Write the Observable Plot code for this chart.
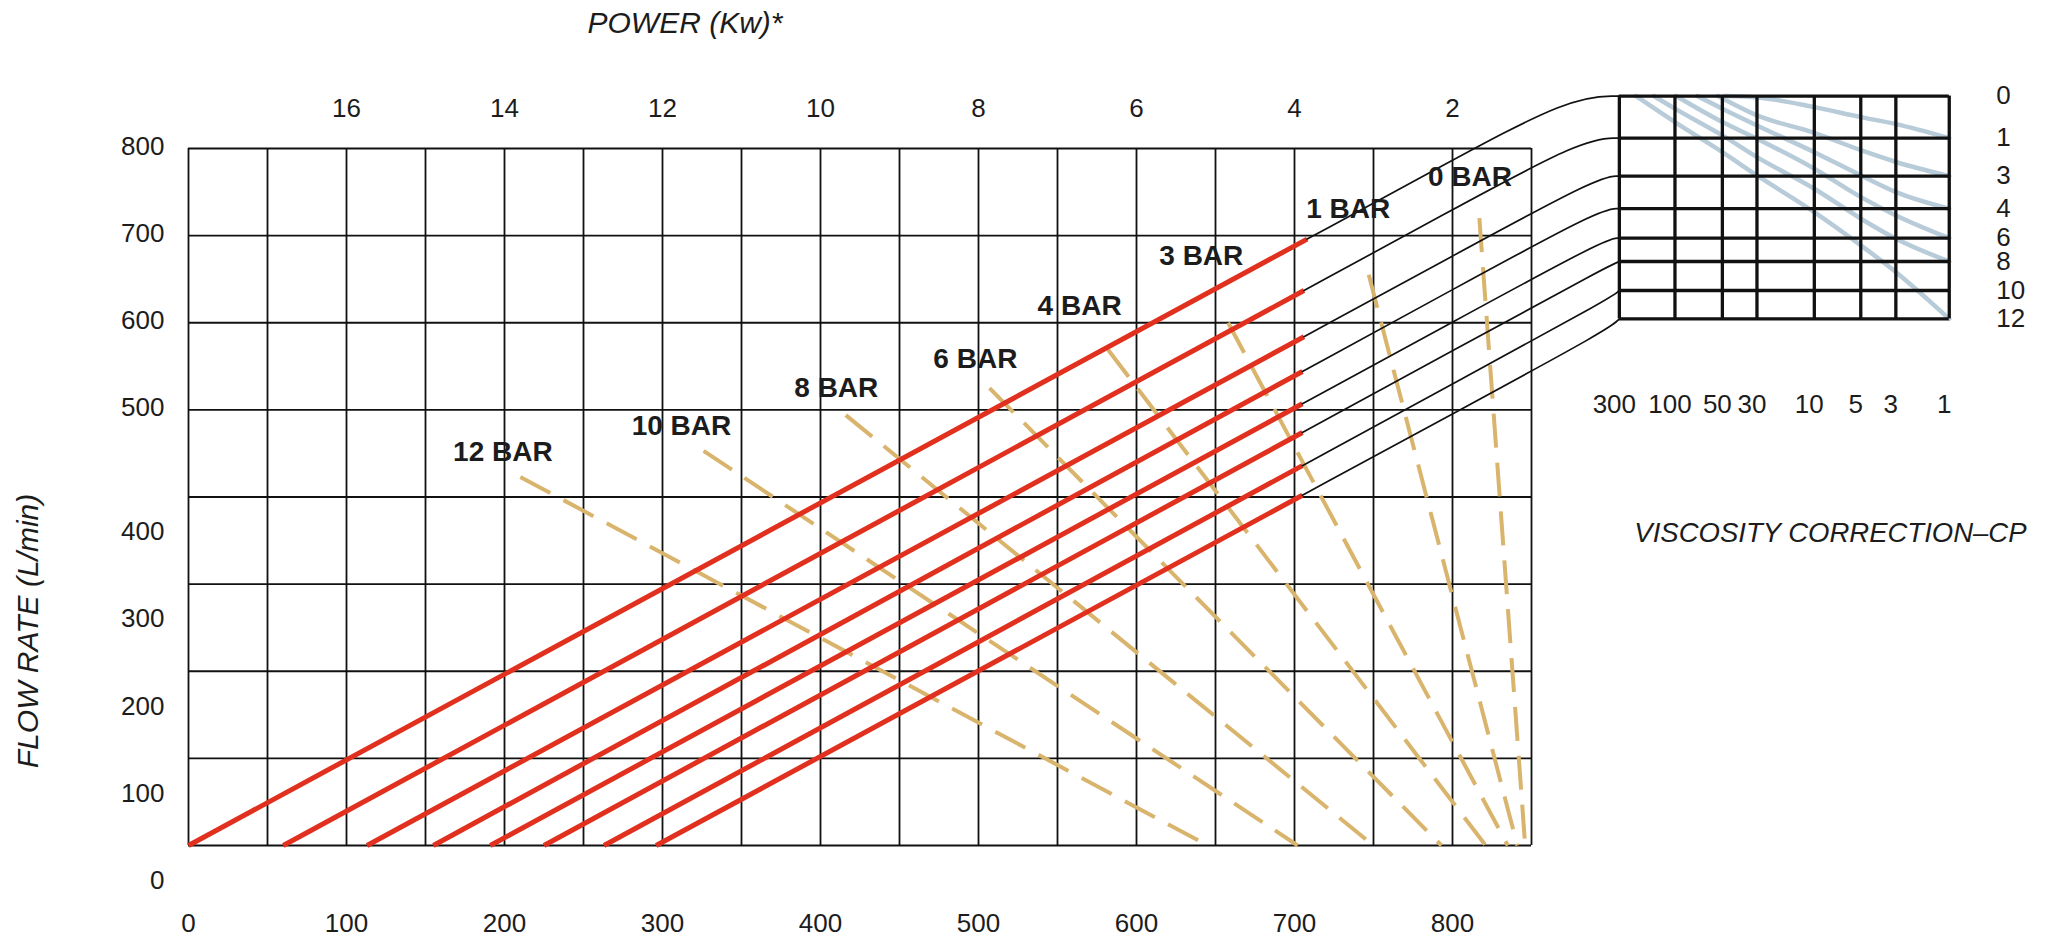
<!DOCTYPE html>
<html>
<head>
<meta charset="utf-8">
<script src="https://cdn.jsdelivr.net/npm/d3@7"></script>
<script src="https://cdn.jsdelivr.net/npm/@observablehq/plot@0.6"></script>
<style>
  html, body { margin: 0; padding: 0; background: #fff; }
  #chart svg { display: block; }
</style>
</head>
<body>
<div id="chart"></div>
<script>
// ---- axes / grid ----
const xTicks = [0, 100, 200, 300, 400, 500, 600, 700, 800];
const yTicksUpper = [500, 600, 700, 800];
const yTicksLower = [0, 100, 200, 300, 400];
const gridX = [0, 50, 100, 150, 200, 250, 300, 350, 400, 450, 500, 550, 600, 650, 700, 750, 800, 850];
const gridY = [0, 100, 200, 300, 400, 500, 600, 700, 800];
const powerTickX = [100, 200, 300, 400, 500, 600, 700, 800];
const powerLabels = ["16", "14", "12", "10", "8", "6", "4", "2"];

// ---- red flow lines ----
const redStartX = [0, 60, 113, 155, 191, 225, 263, 296];
const redEndX = [708, 706, 706, 705, 705, 705, 705, 705];
const redEndY = [696, 637, 584, 544, 507, 474, 436, 402];

// ---- dashed pressure (BAR) lines ----
const barLabels = ["12 BAR", "10 BAR", "8 BAR", "6 BAR", "4 BAR", "3 BAR", "1 BAR", "0 BAR"];
const barTopX = [210, 326, 416, 507, 582, 658, 747, 817];
const barTopY = [423, 453, 494, 525, 569, 600, 655, 720];
const barBottomX = [645, 702, 750, 793, 821, 835, 841, 846];
const barLabelX = [199, 312, 410, 498, 564, 641, 734, 811];
const barLabelY = [452, 482, 525, 558, 619, 677, 730, 767];

// ---- viscosity correction box ----
const viscLabels = ["300", "100", "50", "30", "10", "5", "3", "1"];
const viscColX = [905.6, 940.8, 970.8, 992.7, 1029.0, 1058.4, 1080.6, 1114.4];
const corrLabels = ["0", "1", "3", "4", "6", "8", "10", "12"];
const corrRowY = [860.2, 811.9, 768.3, 730.9, 697.1, 670.3, 637.0, 604.5];

// ---- viscosity correction curves ----
const curveXs = [
  [972, 993.2, 1029.0, 1058.5, 1080.7, 1114.4],
  [968, 992.7, 1029.0, 1058.5, 1080.7, 1114.4],
  [955, 970.8, 992.7, 1029.0, 1058.5, 1080.7, 1114.4],
  [941.5, 970.8, 992.7, 1029.0, 1058.5, 1080.7, 1114.4],
  [927.5, 940.8, 970.8, 992.7, 1029.0, 1058.5, 1080.7, 1114.4],
  [916.1, 940.8, 970.8, 992.7, 1029.0, 1058.5, 1080.7, 1114.4]
];
const curveYs = [
  [860.2, 858.5, 847.5, 836.0, 828.0, 811.9],
  [860.2, 838.0, 818.0, 798.0, 784.5, 768.3],
  [860.2, 845.7, 826.5, 795.8, 769.1, 749.9, 730.9],
  [860.2, 830.3, 811.2, 776.8, 744.2, 723.2, 697.1],
  [860.2, 845.7, 815.0, 790.1, 753.8, 719.4, 696.4, 670.3],
  [860.2, 830.3, 795.8, 769.1, 727.0, 688.7, 658.1, 604.5]
];

// ---- tables built from the arrays ----
const redLines = redStartX.map((xs, i) => ({x1: xs, y1: 0, x2: redEndX[i], y2: redEndY[i]}));
const barLines = barLabels.map((b, i) => ({label: b, x1: barTopX[i], y1: barTopY[i], x2: barBottomX[i], y2: 0, lx: barLabelX[i], ly: barLabelY[i]}));
const connectors = redEndX.flatMap((xe, i) => {
  const ye = redEndY[i];
  const s = ye / (xe - redStartX[i]);
  const ty = corrRowY[i];
  let cx = xe + (ty - ye) / s;
  const lim = viscColX[0] - 6;
  if (cx > lim) cx = lim;
  const cy = ye + s * (cx - xe);
  return [
    {k: i, x: xe, y: ye},
    {k: i, x: (xe + cx) / 2, y: (ye + cy) / 2},
    {k: i, x: cx, y: cy},
    {k: i, x: viscColX[0], y: ty}
  ];
});
const viscCurves = curveXs.flatMap((xs, k) => xs.map((x, j) => ({k, x, y: curveYs[k][j]})));
const viscCols = viscLabels.map((l, i) => ({label: l, x: viscColX[i]}));
const corrRows = corrLabels.map((l, i) => ({label: l, y: corrRowY[i]}));
const powerMap = new Map(powerTickX.map((x, i) => [x, powerLabels[i]]));

const FONT = "'Liberation Sans', Arial, Helvetica, sans-serif";
const INK = "#1c1c1c";

const chart = Plot.plot({
  width: 2046,
  height: 937,
  marginLeft: 188,
  marginRight: 515,
  marginTop: 148,
  marginBottom: 92,
  style: {fontFamily: FONT, fontSize: "26px", color: INK, background: "#fff", overflow: "visible"},
  x: {domain: [0, 850]},
  y: {domain: [0, 800]},
  marks: [
    // main grid
    Plot.ruleX(gridX, {y1: 0, y2: 800, stroke: "#111", strokeWidth: 1.8}),
    Plot.ruleY(gridY, {x1: 0, x2: 850, stroke: "#111", strokeWidth: 1.8}),
    // dashed BAR lines
    Plot.link(barLines, {x1: "x1", y1: "y1", x2: "x2", y2: "y2", stroke: "#d9b46c", strokeWidth: 4, strokeDasharray: "34,15"}),
    // red lines
    Plot.link(redLines, {x1: "x1", y1: "y1", x2: "x2", y2: "y2", stroke: "#e1301e", strokeWidth: 5}),
    // black connectors to viscosity box
    Plot.line(connectors, {x: "x", y: "y", z: "k", curve: "basis", stroke: "#111", strokeWidth: 1.7}),
    // viscosity curves
    Plot.line(viscCurves, {x: "x", y: "y", z: "k", curve: "monotone-x", stroke: "#b8cbd9", strokeWidth: 4.5}),
    // viscosity box grid
    Plot.ruleX(viscCols, {x: "x", y1: corrRowY[corrRowY.length - 1], y2: corrRowY[0], stroke: "#111", strokeWidth: 3.3}),
    Plot.ruleY(corrRows, {y: "y", x1: viscColX[0], x2: viscColX[viscColX.length - 1], stroke: "#111", strokeWidth: 3.3}),
    // viscosity labels
    Plot.text(viscCols, {x: "x", y: corrRowY[corrRowY.length - 1], text: "label", dx: -5, dy: 86, fontSize: 26, fill: INK}),
    Plot.text(corrRows, {x: viscColX[viscColX.length - 1], y: "y", text: "label", textAnchor: "start", dx: 47, fontSize: 26, fill: INK}),
    Plot.text(["VISCOSITY CORRECTION\u2013CP"], {x: viscColX[0], y: corrRowY[corrRowY.length - 1], textAnchor: "start", dx: 15, dy: 214, fontStyle: "italic", fontSize: 27.5, fill: INK}),
    // BAR labels
    Plot.text(barLines, {x: "lx", y: "ly", text: "label", fontWeight: "bold", fontSize: 28, fill: INK}),
    // axes
    Plot.axisX(xTicks, {anchor: "bottom", tickSize: 0, tickPadding: 68, fontSize: 26, label: null}),
    Plot.axisX(powerTickX, {anchor: "top", tickSize: 0, tickPadding: 32, fontSize: 26, label: null, tickFormat: d => powerMap.get(d)}),
    Plot.axisY(yTicksUpper, {anchor: "left", tickSize: 0, tickPadding: 24, fontSize: 26, dy: -2, label: null}),
    Plot.axisY(yTicksLower, {anchor: "left", tickSize: 0, tickPadding: 24, fontSize: 26, dy: 35, label: null}),
    // axis titles
    Plot.text(["POWER (Kw)*"], {frameAnchor: "top", lineAnchor: "middle", dx: -175, dy: -125, fontStyle: "italic", fontSize: 30, fill: INK}),
    Plot.text(["FLOW RATE (L/min)"], {frameAnchor: "left", lineAnchor: "middle", textAnchor: "middle", rotate: -90, dx: -160, dy: 134, fontStyle: "italic", fontSize: 30, fill: INK})
  ]
});
document.getElementById("chart").appendChild(chart);
</script>
</body>
</html>
